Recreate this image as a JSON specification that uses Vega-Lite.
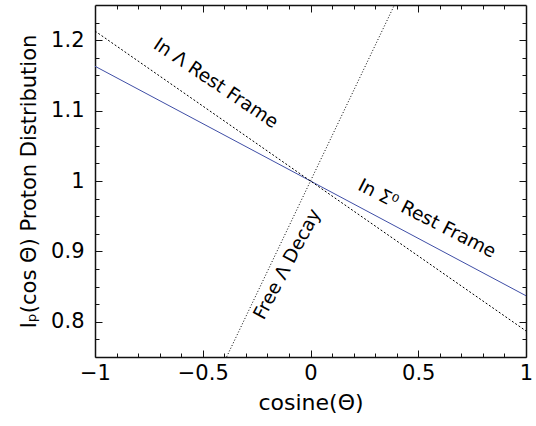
{
  "$schema": "https://vega.github.io/schema/vega-lite/v6.json",
  "width": 431,
  "height": 352,
  "autosize": "none",
  "padding": {"left": 95, "top": 5, "right": 10, "bottom": 69},
  "background": "white",
  "config": {
    "view": {"stroke": null},
    "font": "DejaVu Sans",
    "axis": {"grid": false, "domainColor": "#111", "domainWidth": 1.5, "tickColor": "#111", "tickWidth": 1, "labelFont": "DejaVu Sans", "titleFont": "DejaVu Sans", "labelColor": "black", "titleColor": "black", "labelFontSize": 21, "titleFontSize": 22, "titleFontWeight": "normal"}
  },
  "datasets": {
    "lines": [
      {"x": -1, "y": 1.163, "s": "sigma"},
      {"x": 1, "y": 0.837, "s": "sigma"},
      {"x": -1, "y": 1.213, "s": "lambda"},
      {"x": 1, "y": 0.787, "s": "lambda"},
      {"x": -1, "y": 0.358, "s": "free"},
      {"x": 1, "y": 1.642, "s": "free"}
    ],
    "labels": [
      {"x": -0.439, "y": 1.139, "t": "In Λ Rest Frame", "s": "lambda"},
      {"x": 0.541, "y": 0.947, "t": "In Σ⁰ Rest Frame", "s": "sigma"},
      {"x": -0.109, "y": 0.882, "t": "Free Λ Decay", "s": "free"}
    ]
  },
  "resolve": {"axis": {"x": "independent", "y": "independent"}},
  "layer": [
    {
      "data": {"name": "lines"},
      "transform": [{"filter": "datum.s === 'sigma'"}],
      "mark": {"type": "line", "color": "#3f4ea6", "strokeWidth": 1, "clip": true},
      "encoding": {
        "x": {"field": "x", "type": "quantitative", "scale": {"domain": [-1, 1], "nice": false, "zero": false},
          "axis": {"orient": "bottom", "title": "cosine(Θ)", "values": [-1, -0.5, 0, 0.5, 1], "format": ".1~f", "tickSize": -7, "labelPadding": 12, "titlePadding": 9, "labelFlush": false}},
        "y": {"field": "y", "type": "quantitative", "scale": {"domain": [0.75, 1.25], "nice": false, "zero": false},
          "axis": {"orient": "left", "title": "Iₚ(cos Θ) Proton Distribution", "titleFontSize": 21, "values": [0.8, 0.9, 1.0, 1.1, 1.2], "format": ".1~f", "tickSize": -7, "labelPadding": 18, "titlePadding": 11, "labelFlush": false}}
      }
    },
    {
      "data": {"name": "lines"},
      "transform": [{"filter": "datum.s === 'lambda'"}],
      "mark": {"type": "line", "color": "black", "strokeWidth": 1, "strokeDash": [2, 2], "clip": true},
      "encoding": {
        "x": {"field": "x", "type": "quantitative", "scale": {"domain": [-1, 1], "nice": false, "zero": false},
          "axis": {"orient": "bottom", "title": null, "values": [-0.9, -0.8, -0.7, -0.6, -0.4, -0.3, -0.2, -0.1, 0.1, 0.2, 0.3, 0.4, 0.6, 0.7, 0.8, 0.9], "labels": false, "domain": false, "tickSize": -4}},
        "y": {"field": "y", "type": "quantitative", "scale": {"domain": [0.75, 1.25], "nice": false, "zero": false},
          "axis": {"orient": "left", "title": null, "values": [0.775, 0.825, 0.85, 0.875, 0.925, 0.95, 0.975, 1.025, 1.05, 1.075, 1.125, 1.15, 1.175, 1.225], "labels": false, "domain": false, "tickSize": -4}}
      }
    },
    {
      "data": {"name": "lines"},
      "transform": [{"filter": "datum.s === 'free'"}],
      "mark": {"type": "line", "color": "black", "strokeWidth": 1, "strokeDash": [1, 2], "clip": true},
      "encoding": {
        "x": {"field": "x", "type": "quantitative", "scale": {"domain": [-1, 1], "nice": false, "zero": false},
          "axis": {"orient": "top", "title": null, "values": [-0.5, 0, 0.5], "labels": false, "tickSize": -7}},
        "y": {"field": "y", "type": "quantitative", "scale": {"domain": [0.75, 1.25], "nice": false, "zero": false},
          "axis": {"orient": "right", "title": null, "values": [0.8, 0.9, 1.0, 1.1, 1.2], "labels": false, "tickSize": -7}}
      }
    },
    {
      "data": {"name": "labels"},
      "transform": [{"filter": "datum.s === 'lambda'"}],
      "mark": {"type": "text", "angle": 34, "fontSize": 18.5, "font": "DejaVu Sans", "color": "black", "align": "center", "baseline": "middle"},
      "encoding": {
        "x": {"field": "x", "type": "quantitative", "scale": {"domain": [-1, 1], "nice": false, "zero": false},
          "axis": {"orient": "top", "title": null, "values": [-0.9, -0.8, -0.7, -0.6, -0.4, -0.3, -0.2, -0.1, 0.1, 0.2, 0.3, 0.4, 0.6, 0.7, 0.8, 0.9], "labels": false, "domain": false, "tickSize": -4}},
        "y": {"field": "y", "type": "quantitative", "scale": {"domain": [0.75, 1.25], "nice": false, "zero": false},
          "axis": {"orient": "right", "title": null, "values": [0.775, 0.825, 0.85, 0.875, 0.925, 0.95, 0.975, 1.025, 1.05, 1.075, 1.125, 1.15, 1.175, 1.225], "labels": false, "domain": false, "tickSize": -4}},
        "text": {"field": "t"}
      }
    },
    {
      "data": {"name": "labels"},
      "transform": [{"filter": "datum.s === 'sigma'"}],
      "mark": {"type": "text", "angle": 27, "fontSize": 18.5, "font": "DejaVu Sans", "color": "black", "align": "center", "baseline": "middle"},
      "encoding": {
        "x": {"field": "x", "type": "quantitative", "axis": null},
        "y": {"field": "y", "type": "quantitative", "axis": null},
        "text": {"field": "t"}
      }
    },
    {
      "data": {"name": "labels"},
      "transform": [{"filter": "datum.s === 'free'"}],
      "mark": {"type": "text", "angle": -62, "fontSize": 18.5, "font": "DejaVu Sans", "color": "black", "align": "center", "baseline": "middle"},
      "encoding": {
        "x": {"field": "x", "type": "quantitative", "axis": null},
        "y": {"field": "y", "type": "quantitative", "axis": null},
        "text": {"field": "t"}
      }
    }
  ]
}
